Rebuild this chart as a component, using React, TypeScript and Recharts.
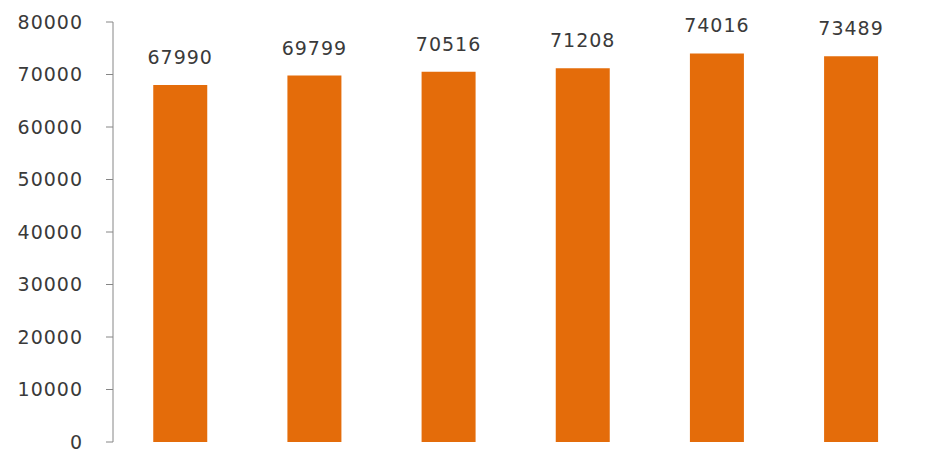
import React from "react";
import { BarChart, Bar, XAxis, YAxis, LabelList } from "recharts";

const categories = ["1", "2", "3", "4", "5", "6"];
const values = [67990, 69799, 70516, 71208, 74016, 73489];
const yTicks = [0, 10000, 20000, 30000, 40000, 50000, 60000, 70000, 80000];
const boundaryTicks = [0, 1, 2, 3, 4, 5, 6];

const data = categories.map((c, i) => ({ name: c, value: values[i] }));

const textStyle = { fontFamily: "DejaVu Sans", fontSize: 19, fill: "#3a3a3a", letterSpacing: 1 };

export default function App() {
  return (
    <div style={{ position: "fixed", left: 0, top: 0, width: 935, height: 455, background: "#fff" }}>
      <BarChart
        width={935}
        height={455}
        data={data}
        margin={{ top: 22, right: 17, bottom: 0, left: 0 }}
        barCategoryGap="30%"
      >
        <XAxis xAxisId="cat" dataKey="name" hide />
        <XAxis
          xAxisId="num"
          type="number"
          domain={[0, 6]}
          ticks={boundaryTicks}
          tick={false}
          height={13}
          tickSize={8}
          stroke="#868686"
          allowDataOverflow
        />
        <YAxis
          width={113}
          domain={[0, 80000]}
          ticks={yTicks}
          interval={0}
          tickSize={7}
          tickMargin={23}
          stroke="#868686"
          tick={{ ...textStyle }}
        />
        <Bar xAxisId="cat" dataKey="value" fill="#E46C0A" isAnimationActive={false}>
          <LabelList dataKey="value" position="top" offset={21} style={textStyle} />
        </Bar>
      </BarChart>
    </div>
  );
}
